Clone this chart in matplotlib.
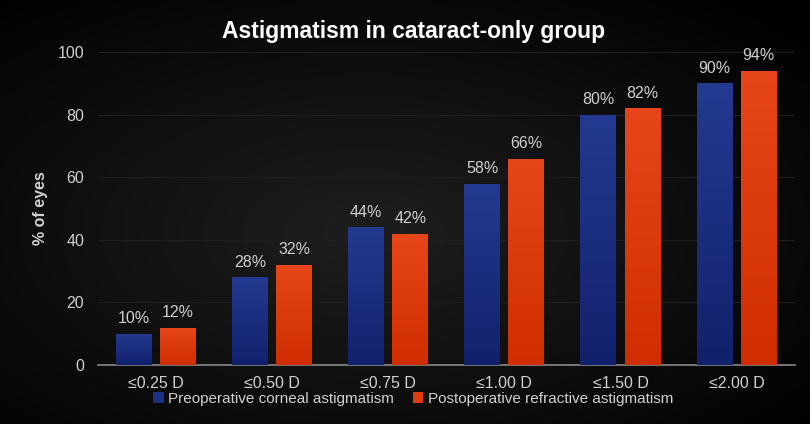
import numpy as np
import matplotlib.pyplot as plt
from matplotlib.colors import LinearSegmentedColormap

categories = ["≤0.25 D", "≤0.50 D", "≤0.75 D", "≤1.00 D", "≤1.50 D", "≤2.00 D"]
preop = [10, 28, 44, 58, 80, 90]
postop = [12, 32, 42, 66, 82, 94]
series_names = ["Preoperative corneal astigmatism", "Postoperative refractive astigmatism"]
yticks = [0, 20, 40, 60, 80, 100]

text_col = "#d0d0d0"
plt.rcParams["font.family"] = ["Liberation Sans", "DejaVu Sans"]

fig = plt.figure(figsize=(8.1, 4.24), dpi=100)

# dark radial background
bg = fig.add_axes([0, 0, 1, 1], zorder=-10)
yy, xx = np.mgrid[0:1:200j, 0:1:400j]
r = np.sqrt(((xx - 0.45) / 0.75) ** 2 + ((yy - 0.55) / 0.75) ** 2)
bg.imshow(np.clip(r, 0, 1), cmap=LinearSegmentedColormap.from_list("bg", ["#1e1e1e", "#000000"]),
          extent=[0, 1, 0, 1], aspect="auto", vmin=0, vmax=1)
bg.axis("off")

ax = fig.add_axes([0.121, 0.139, 0.86, 0.738])
ax.set_facecolor("none")

x = np.arange(len(categories))
w = 0.31
off = 0.035 + w / 2

blue_cmap = LinearSegmentedColormap.from_list("b", ["#11216c", "#243a90"])
red_cmap = LinearSegmentedColormap.from_list("r", ["#d02e00", "#e6461a"])
grad = np.linspace(0, 1, 100).reshape(-1, 1)

def grad_bars(xs, vals, cmap, label):
    bars = ax.bar(xs, vals, w, color=cmap(0.6), label=label, zorder=2)
    for b in bars:
        x0, y0 = b.get_x(), b.get_y()
        im = ax.imshow(grad, cmap=cmap, origin="lower", aspect="auto",
                       extent=[x0, x0 + b.get_width(), y0, y0 + b.get_height()], zorder=3)
        im.set_clip_path(b)
    for xi, v in zip(xs, vals):
        ax.text(xi, v + 2.5, f"{v}%", ha="center", va="bottom", color=text_col,
                fontsize=11.5, clip_on=False)
    return bars

grad_bars(x - off, preop, blue_cmap, series_names[0])
grad_bars(x + off, postop, red_cmap, series_names[1])

ax.set_xlim(-0.5, len(categories) - 0.5)
ax.set_ylim(0, 100)
ax.set_yticks(yticks)
ax.set_xticks(x)
ax.set_xticklabels(categories)
ax.tick_params(length=0, colors=text_col, labelsize=11.5, pad=8)
ax.tick_params(axis="y", pad=10)
ax.grid(axis="y", color="#1f1f1f", linewidth=0.8, zorder=0)
ax.set_axisbelow(True)
for s in ["top", "right", "left"]:
    ax.spines[s].set_visible(False)
ax.spines["bottom"].set_color("#888888")
ax.spines["bottom"].set_linewidth(1.2)
ax.set_ylabel("% of eyes", color=text_col, fontsize=11.5, fontweight="bold", labelpad=7)

fig.text(0.51, 0.925, "Astigmatism in cataract-only group", ha="center", va="center",
         color="white", fontsize=16.5, fontweight="bold")

leg = fig.legend(loc="center", bbox_to_anchor=(0.51, 0.06), ncol=2, frameon=False,
                 fontsize=11, handlelength=0.7, handleheight=0.7, handletextpad=0.3,
                 columnspacing=1.2, labelcolor=text_col)

fig.savefig("out.png", dpi=100, facecolor="black")
